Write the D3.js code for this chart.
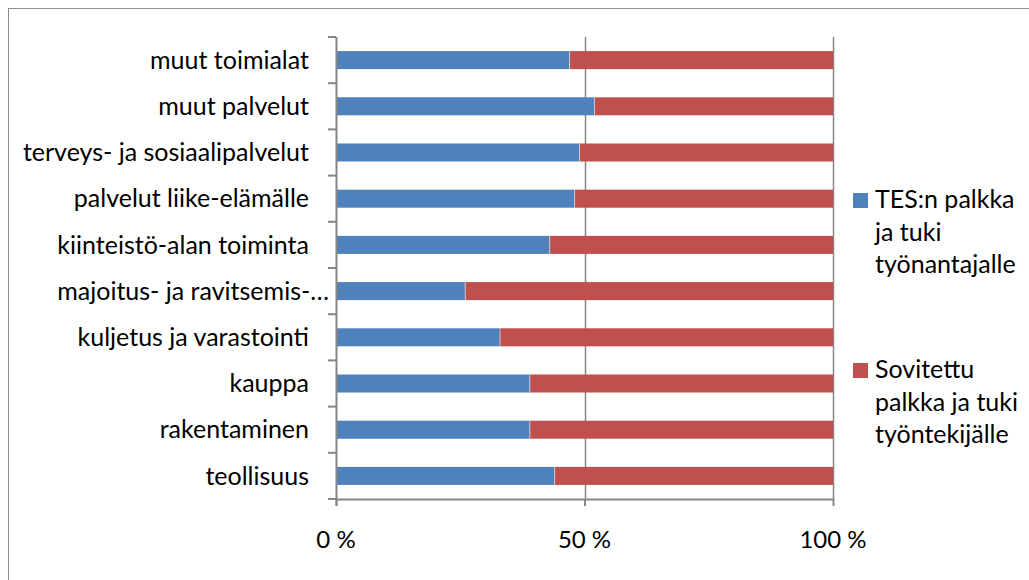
<!DOCTYPE html>
<html><head><meta charset="utf-8">
<script src="https://cdn.jsdelivr.net/npm/d3@7"></script>
<style>
html,body{margin:0;padding:0;background:#fff;}
svg{display:block;font-family:Lato,"Liberation Sans",Arial,sans-serif;}
</style></head>
<body>
<svg id="c" width="1029" height="580"></svg>
<script>
// Data (top-to-bottom order as shown)
const categories = ["muut toimialat","muut palvelut","terveys- ja sosiaalipalvelut","palvelut liike-elämälle","kiinteistö-alan toiminta","majoitus- ja ravitsemis-…","kuljetus ja varastointi","kauppa","rakentaminen","teollisuus"];
const tesPay = [47, 52, 49, 48, 43, 26, 33, 39, 39, 44];
const adjustedPay = [53, 48, 51, 52, 57, 74, 67, 61, 61, 56];
const seriesNames = ["TES:n palkka ja tuki työnantajalle","Sovitettu palkka ja tuki työntekijälle"];
const legendLines = [["TES:n palkka","ja tuki","työnantajalle"],["Sovitettu","palkka ja tuki","työntekijälle"]];
const xTicks = [0, 0.5, 1];
const xTickLabels = ["0 %","50 %","100 %"];
const colors = ["#4F81BD","#C0504D"];

const svg = d3.select("#c");
const axisColor = "#868686";

// outer chart border (top and left visible)
svg.append("rect").attr("x",8.5).attr("y",8.5).attr("width",1100).attr("height",700)
  .attr("fill","none").attr("stroke","#8c8c8c").attr("stroke-width",1);

const x0 = 336, x1 = 833, yTop = 37, yBot = 499;
const x = d3.scaleLinear().domain([0,1]).range([x0,x1]);
const y = d3.scaleBand().domain(categories).range([yTop,yBot]).paddingInner(0.61).paddingOuter(0.305);

// stacked normalized data
const rows = categories.map((c,i)=>{
  const tot = tesPay[i] + adjustedPay[i];
  return {cat:c, a:tesPay[i]/tot, b:adjustedPay[i]/tot};
});

// gridlines
const grid = svg.append("g");
grid.selectAll("line").data(xTicks.filter(t=>t>0)).join("line")
  .attr("x1",d=>Math.round(x(d))+0.5).attr("x2",d=>Math.round(x(d))+0.5)
  .attr("y1",yTop).attr("y2",yBot)
  .attr("stroke",axisColor).attr("stroke-width",1.5);

// bars
const bars = svg.append("g");
bars.selectAll("rect.a").data(rows).join("rect").attr("class","a")
  .attr("x",x(0)).attr("y",d=>y(d.cat)).attr("height",y.bandwidth())
  .attr("width",d=>x(d.a)-x(0)).attr("fill",colors[0]);
bars.selectAll("rect.b").data(rows).join("rect").attr("class","b")
  .attr("x",d=>x(d.a)).attr("y",d=>y(d.cat)).attr("height",y.bandwidth())
  .attr("width",d=>x(1)-x(d.a)).attr("fill",colors[1]);
// thin light separators between segments
bars.selectAll("line.sep").data(rows).join("line").attr("class","sep")
  .attr("x1",d=>x(d.a)).attr("x2",d=>x(d.a))
  .attr("y1",d=>y(d.cat)).attr("y2",d=>y(d.cat)+y.bandwidth())
  .attr("stroke","#d9d9d9").attr("stroke-width",0.8);

// y axis line and ticks at band boundaries
const bounds = d3.range(categories.length+1).map(i=>yTop + i*(yBot-yTop)/categories.length);
const yAx = svg.append("g");
yAx.append("line").attr("x1",x0+0.5).attr("x2",x0+0.5).attr("y1",yTop).attr("y2",yBot+7)
  .attr("stroke",axisColor).attr("stroke-width",2);
yAx.selectAll("line.t").data(bounds).join("line").attr("class","t")
  .attr("x1",x0-8).attr("x2",x0).attr("y1",d=>d).attr("y2",d=>d)
  .attr("stroke",axisColor).attr("stroke-width",2);

// category labels
svg.append("g").selectAll("text").data(categories).join("text")
  .attr("x",d=> d.endsWith("…") ? x0-7 : x0-27)
  .attr("y",d=>y(d)+y.bandwidth()/2)
  .attr("dy","0.35em").attr("text-anchor","end")
  .attr("font-size","25px").attr("fill","#000").text(d=>d);

// x axis line, ticks, labels
const xAx = svg.append("g");
xAx.append("line").attr("x1",x0).attr("x2",x1).attr("y1",yBot+0.5).attr("y2",yBot+0.5)
  .attr("stroke",axisColor).attr("stroke-width",2);
xAx.selectAll("line.t").data(xTicks).join("line").attr("class","t")
  .attr("x1",d=>x(d)+0.5).attr("x2",d=>x(d)+0.5).attr("y1",yBot).attr("y2",yBot+7)
  .attr("stroke",axisColor).attr("stroke-width",2);
xAx.selectAll("text").data(xTicks).join("text")
  .attr("x",d=>x(d)).attr("y",548).attr("text-anchor","middle")
  .attr("font-size","24px").attr("fill","#000")
  .text((d,i)=>xTickLabels[i]);

// legend
const leg = svg.append("g");
const legTops = [208, 378];
seriesNames.forEach((name,i)=>{
  const g = leg.append("g");
  g.append("rect").attr("x",853).attr("y",legTops[i]-15).attr("width",15).attr("height",15).attr("fill",colors[i]);
  g.append("text").attr("font-size","25px").attr("fill","#000")
    .selectAll("tspan").data(legendLines[i]).join("tspan")
    .attr("x",875).attr("y",(d,j)=>legTops[i]+j*32.5).text(d=>d);
});
</script>
</body></html>
